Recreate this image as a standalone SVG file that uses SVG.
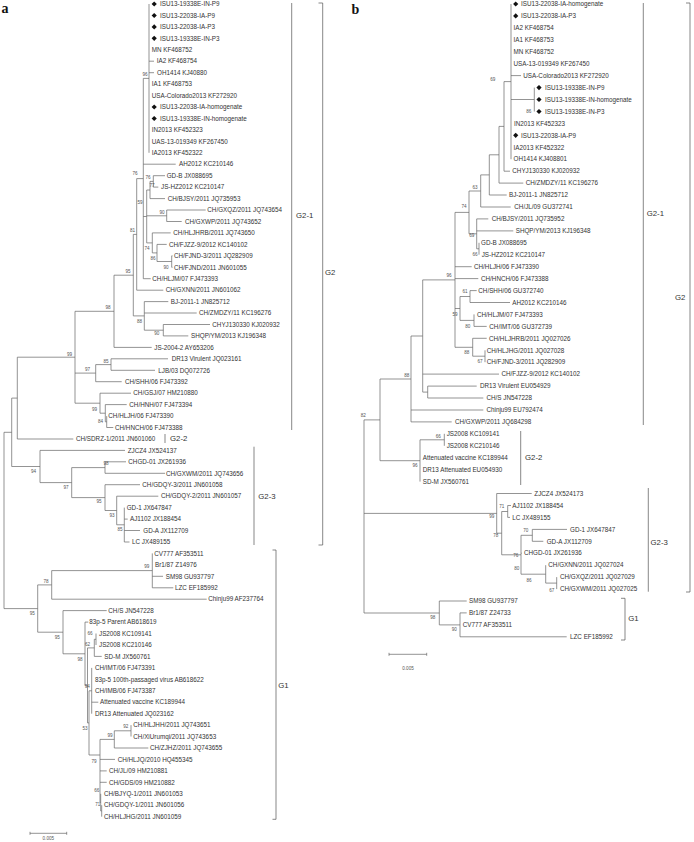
<svg xmlns="http://www.w3.org/2000/svg" xmlns:xlink="http://www.w3.org/1999/xlink" width="694" height="842" viewBox="0 0 694 842">
<style>
.ln{fill:none;stroke:#666;stroke-width:0.7}
.br{fill:none;stroke:#555;stroke-width:0.7}
.t{font-family:"Liberation Sans",Arial,sans-serif;font-size:6.3px;fill:#333}
.bs{font-family:"Liberation Sans",Arial,sans-serif;font-size:4.6px;fill:#555;text-anchor:middle}
.g{font-family:"Liberation Sans",Arial,sans-serif;font-size:7.8px;fill:#333}
.pl{font-family:"Liberation Serif","Times New Roman",serif;font-weight:bold;font-size:14px;fill:#111}
.dm{fill:#111}
</style>
<defs><path id="dm" class="dm" d="M0,-2.6L2.6,0L0,2.6L-2.6,0Z"/></defs>
<rect width="694" height="842" fill="#fff"/>
<text class="pl" x="1.5" y="13">a</text>
<text class="pl" x="351.5" y="13.5">b</text>
<g id="connectors">
<path class="ln" d="M4,432.3V608.6M4,432.3H11.7M4,608.6H37.7M11.7,398.1V466.5M11.7,398.1H17.3M11.7,466.5H40M17.3,357.2V439M17.3,357.2H75M17.3,439H73.3M75,311.3V403.2M75,311.3H114M75,373.1H95.7M75,403.2H100M114,275.2V347.4M114,275.2H133.3M114,347.4H151.7M133.3,234.4V315.9M133.3,234.4H136.7M133.3,315.9H144.3M136.7,178.6V290.2M136.7,178.6H143.3M136.7,290.2H163.3M143.3,78.4V278.7M143.3,78.4H149M143.3,164.2H175.7M143.3,216.5H146.7M143.3,278.7H150.7M149,4V152.8M149,61.2H154M149,72.7H154M146.7,190V242.9M146.7,190H150M146.7,215.8H166.7M146.7,242.9H152.3M150,181.4V198.6M150,181.4H153.3M150,198.6H165M153.3,175.7V187.1M153.3,175.7H165M153.3,187.1H158.3M166.7,210V221.5M166.7,210H205.7M166.7,221.5H181.7M152.3,232.9V252.9M152.3,232.9H170.7M152.3,252.9H157M157,244.4V261.5M157,244.4H166.7M157,261.5H171.7M171.7,255.8V267.3M171.7,255.8H172.5M171.7,267.3H172.5M144.3,301.6V330.2M144.3,301.6H168.3M144.3,313H196.7M144.3,330.2H163.3M163.3,324.5V335.9M163.3,324.5H210M163.3,335.9H188.3M95.7,364.6V381.7M95.7,364.6H111M95.7,381.7H121.7M111,358.8V370.3M111,358.8H168M111,370.3H155M100,393.2V413.2M100,393.2H131M100,413.2H105.3M105.3,404.6V421.8M105.3,404.6H126.7M105.3,421.8H106.7M106.7,416.1V427.5M106.7,427.5H113.3M40,450.4V482.6M40,450.4H125M40,482.6H71.7M71.7,467.6V497.6M71.7,467.6H105M71.7,497.6H105M105,461.8V473.3M105,461.8H126M105,473.3H165M105,484.7V510.5M105,484.7H140M105,510.5H116.7M116.7,496.2V524.8M116.7,496.2H158.3M116.7,524.8H124.3M124.3,507.6V542M124.3,519.1H127.7M124.3,530.5H140M124.3,542H129.5M37.7,584.9V632.2M37.7,584.9H51.7M37.7,632.2H63M51.7,570.6V599.2M51.7,570.6H152.3M51.7,599.2H206.7M152.3,553.4V587.8M152.3,576.3H163M152.3,587.8H173.3M63,610.6V653.8M63,610.6H106.7M63,653.8H85M85,622.1V685.4M85,622.1H88.3M85,685.4H87.5M87.5,647.9V722.9M87.5,647.9H94.3M87.5,722.9H89M94.3,639.3V656.4M94.3,639.3H96M94.3,656.4H101.7M96,633.5V645M89,690.8V755M89,690.8H91.7M89,755H100M91.7,667.9V713.7M91.7,702.2H98.3M100,739.4V802.4M100,739.4H114.3M100,759.4H115M100,770.9H106.7M100,782.3H106.7M100,802.4H100.7M114.3,730.8V748M114.3,730.8H131M114.3,748H148.3M131,725.1V736.5M100.7,793.8V811M100.7,811H101.7M101.7,805.2V816.7"/>
<path class="ln" d="M364,419.9V613M364,419.9H380M364,513.4H496.7M364,613H439.3M380,379V460.7M380,379H411M380,460.7H420M411,336V421.9M411,336H422.7M411,410H483.3M411,421.9H451.7M422.7,279.9V392.1M422.7,279.9H455M422.7,374.1H499M422.7,392.1H427.7M427.7,386.1V398M427.7,386.1H476.7M427.7,398H483.3M455,212.4V347.3M455,212.4H469M455,266.7H471.7M455,278.6H478.3M455,308.5H460M455,347.3H472.7M469,191V233.8M469,191H480.7M469,233.8H476.7M480.7,174.9V207M480.7,174.9H489.3M480.7,207H510.7M489.3,154.8V195M489.3,154.8H499M489.3,195H506.7M499,126.4V183.1M499,126.4H504M499,183.1H523.3M504,81.6V171.2M504,81.6H511M504,171.2H510M511,4V159.2M511,75.6H521M511,99.5H534.3M534.3,87.6V111.5M476.7,218.9V248.8M476.7,218.9H488.3M476.7,230.9H513.3M476.7,248.8H479M479,242.8V254.7M460,296.5V320.4M460,296.5H470M460,320.4H474M470,290.6V302.5M470,290.6H476.7M470,302.5H510M474,314.4V326.4M474,326.4H486.7M472.7,338.3V356.2M472.7,338.3H486.7M472.7,356.2H485M485,350.3V362.2M420,439.8V481.6M420,439.8H444.3M444.3,433.8V445.8M496.7,493.5V533.2M496.7,493.5H531.7M496.7,533.2H501.7M501.7,511.5V554.8M501.7,511.5H507.7M501.7,554.8H521M507.7,505.5V517.4M507.7,505.5H511M507.7,517.4H510M521,535.3V574.2M521,535.3H532.3M521,553.2H521.7M521,574.2H545.7M532.3,529.4V541.3M532.3,529.4H567M532.3,541.3H543.3M545.7,565.2V583.1M545.7,583.1H556.7M556.7,577.1V589.1M439.3,601V624.9M439.3,601H466.7M439.3,624.9H460M460,612.9V636.8M460,612.9H466.7M460,636.8H566.7"/>
</g>
<g id="brackets">
<path class="br" d="M291.7,3V430M318.5,3H322.7V545H318.5M165,434V443M254,446.7V545M272.5,550H276V819.3H272.5"/>
<text class="g" x="296" y="218">G2-1</text>
<text class="g" x="325" y="275">G2</text>
<text class="g" x="170" y="441">G2-2</text>
<text class="g" x="258.3" y="499">G2-3</text>
<text class="g" x="278.3" y="688">G1</text>
<path class="br" d="M643.3,3V425M686,3H690V592H686M520.7,431V485M648.3,488V591.7M621,598.3H625V640H621"/>
<text class="g" x="646.7" y="216">G2-1</text>
<text class="g" x="675" y="300">G2</text>
<text class="g" x="525" y="460">G2-2</text>
<text class="g" x="650.5" y="544.5">G2-3</text>
<text class="g" x="628.3" y="621">G1</text>
</g>
<g id="scales">
<path class="ln" d="M30,833.3H66.7M30,831.8V834.8M66.7,831.8V834.8M389,654.3H426.7M389,652.8V655.8M426.7,652.8V655.8"/>
<text class="bs" x="48.3" y="840">0.005</text>
<text class="bs" x="408" y="670">0.005</text>
</g>
<g id="bootstrap-a">
<text class="bs" x="145" y="75.6">96</text>
<text class="bs" x="135" y="174.9">76</text>
<text class="bs" x="148" y="178.6">76</text>
<text class="bs" x="152" y="186.6">77</text>
<text class="bs" x="140" y="203.6">59</text>
<text class="bs" x="162" y="213.6">90</text>
<text class="bs" x="132.5" y="231.6">81</text>
<text class="bs" x="147" y="249.6">74</text>
<text class="bs" x="153" y="260.1">86</text>
<text class="bs" x="166" y="268.6">90</text>
<text class="bs" x="128" y="272.6">95</text>
<text class="bs" x="108" y="308.6">98</text>
<text class="bs" x="139.5" y="322.6">88</text>
<text class="bs" x="156.7" y="334.9">90</text>
<text class="bs" x="69.5" y="355.6">99</text>
<text class="bs" x="106" y="362.6">85</text>
<text class="bs" x="87.5" y="370.9">97</text>
<text class="bs" x="94.5" y="410.9">99</text>
<text class="bs" x="100.5" y="423.1">84</text>
<text class="bs" x="106" y="464.6">98</text>
<text class="bs" x="33.5" y="473.3">94</text>
<text class="bs" x="66" y="489.3">97</text>
<text class="bs" x="99" y="503.3">95</text>
<text class="bs" x="112" y="517.3">93</text>
<text class="bs" x="120" y="530.9">85</text>
<text class="bs" x="146.7" y="567.6">99</text>
<text class="bs" x="46" y="582.6">78</text>
<text class="bs" x="32.3" y="614.9">95</text>
<text class="bs" x="57.3" y="638.9">95</text>
<text class="bs" x="90" y="634.6">66</text>
<text class="bs" x="87.5" y="645.6">62</text>
<text class="bs" x="80" y="660.9">98</text>
<text class="bs" x="87.3" y="688.3">94</text>
<text class="bs" x="85" y="729.9">53</text>
<text class="bs" x="125.7" y="728.3">92</text>
<text class="bs" x="110" y="736.6">99</text>
<text class="bs" x="94" y="762.6">79</text>
<text class="bs" x="96.7" y="791.6">66</text>
<text class="bs" x="97.7" y="805.9">71</text>
</g>
<g id="bootstrap-b">
<text class="bs" x="492.7" y="80.9">69</text>
<text class="bs" x="528.7" y="113.3">86</text>
<text class="bs" x="475" y="188.9">63</text>
<text class="bs" x="464" y="207.6">74</text>
<text class="bs" x="471.7" y="236.6">69</text>
<text class="bs" x="475" y="255.9">66</text>
<text class="bs" x="449" y="276.6">96</text>
<text class="bs" x="465" y="293.3">61</text>
<text class="bs" x="455" y="315.9">59</text>
<text class="bs" x="467.7" y="327.6">80</text>
<text class="bs" x="466.7" y="354.3">88</text>
<text class="bs" x="480" y="363.3">67</text>
<text class="bs" x="406.7" y="376.6">88</text>
<text class="bs" x="363.3" y="416.6">82</text>
<text class="bs" x="438.3" y="437.6">66</text>
<text class="bs" x="415" y="466.6">96</text>
<text class="bs" x="501.7" y="508.3">71</text>
<text class="bs" x="491.7" y="517.6">99</text>
<text class="bs" x="525.7" y="532.3">70</text>
<text class="bs" x="495.7" y="537.3">78</text>
<text class="bs" x="515.7" y="556.6">76</text>
<text class="bs" x="516.7" y="569.9">80</text>
<text class="bs" x="529" y="581.6">86</text>
<text class="bs" x="551.7" y="591.6">67</text>
<text class="bs" x="432.7" y="619.3">98</text>
<text class="bs" x="454.3" y="630.9">90</text>
</g>
<g id="a1"><use href="#dm" x="154.2" y="4"/><text class="t" x="160" y="6.2">ISU13-19338E-IN-P9</text></g>
<g id="a2"><use href="#dm" x="154.2" y="15.5"/><text class="t" x="160" y="17.7">ISU13-22038-IA-P9</text></g>
<g id="a3"><use href="#dm" x="154.2" y="26.9"/><text class="t" x="160" y="29.1">ISU13-22038-IA-P3</text></g>
<g id="a4"><use href="#dm" x="154.2" y="38.3"/><text class="t" x="160" y="40.5">ISU13-19338E-IN-P3</text></g>
<g id="a5"><text class="t" x="151.7" y="52">MN KF468752</text></g>
<g id="a6"><text class="t" x="156.7" y="63.4">IA2 KF468754</text></g>
<g id="a7"><text class="t" x="157" y="74.9">OH1414 KJ40880</text></g>
<g id="a8"><text class="t" x="151.7" y="86.3">IA1 KF468753</text></g>
<g id="a9"><text class="t" x="151.7" y="97.8">USA-Colorado2013 KF272920</text></g>
<g id="a10"><use href="#dm" x="154.2" y="107"/><text class="t" x="160" y="109.2">ISU13-22038-IA-homogenate</text></g>
<g id="a11"><use href="#dm" x="154.2" y="118.5"/><text class="t" x="160" y="120.7">ISU13-19338E-IN-homogenate</text></g>
<g id="a12"><text class="t" x="151.7" y="132.1">IN2013 KF452323</text></g>
<g id="a13"><text class="t" x="151.7" y="143.6">UAS-13-019349 KF267450</text></g>
<g id="a14"><text class="t" x="151.7" y="155">IA2013 KF452322</text></g>
<g id="a15"><text class="t" x="179" y="166.4">AH2012 KC210146</text></g>
<g id="a16"><text class="t" x="166.7" y="177.9">GD-B JX088695</text></g>
<g id="a17"><text class="t" x="161" y="189.3">JS-HZ2012 KC210147</text></g>
<g id="a18"><text class="t" x="167.7" y="200.8">CH/BJSY/2011 JQ735953</text></g>
<g id="a19"><text class="t" x="207.3" y="212.2">CH/GXQZ/2011 JQ743654</text></g>
<g id="a20"><text class="t" x="185" y="223.7">CH/GXWP/2011 JQ743652</text></g>
<g id="a21"><text class="t" x="173.3" y="235.1">CH/HLJHRB/2011 JQ743650</text></g>
<g id="a22"><text class="t" x="169" y="246.6">CH/FJZZ-9/2012 KC140102</text></g>
<g id="a23"><text class="t" x="174" y="258">CH/FJND-3/2011 JQ282909</text></g>
<g id="a24"><text class="t" x="174" y="269.5">CH/FJND/2011 JN601055</text></g>
<g id="a25"><text class="t" x="152.3" y="280.9">CH/HLJM/07 FJ473393</text></g>
<g id="a26"><text class="t" x="165.7" y="292.4">CH/GXNN/2011 JN601062</text></g>
<g id="a27"><text class="t" x="170.7" y="303.8">BJ-2011-1 JN825712</text></g>
<g id="a28"><text class="t" x="199" y="315.2">CH/ZMDZY/11 KC196276</text></g>
<g id="a29"><text class="t" x="212.3" y="326.7">CHYJ130330 KJ020932</text></g>
<g id="a30"><text class="t" x="191" y="338.1">SHQP/YM/2013 KJ196348</text></g>
<g id="a31"><text class="t" x="154.3" y="349.6">JS-2004-2 AY653206</text></g>
<g id="a32"><text class="t" x="171.7" y="361">DR13 Virulent JQ023161</text></g>
<g id="a33"><text class="t" x="158.3" y="372.5">LJB/03 DQ072726</text></g>
<g id="a34"><text class="t" x="125" y="383.9">CH/SHH/06 FJ473392</text></g>
<g id="a35"><text class="t" x="133.3" y="395.4">CH/GSJ/07 HM210880</text></g>
<g id="a36"><text class="t" x="129.3" y="406.8">CH/HNH/07 FJ473394</text></g>
<g id="a37"><text class="t" x="108.3" y="418.3">CH/HLJH/06 FJ473390</text></g>
<g id="a38"><text class="t" x="115" y="429.7">CH/HNCH/06 FJ473388</text></g>
<g id="a39"><text class="t" x="76" y="441.2">CH/SDRZ-1/2011 JN601060</text></g>
<g id="a40"><text class="t" x="127.7" y="452.6">ZJCZ4 JX524137</text></g>
<g id="a41"><text class="t" x="128.3" y="464">CHGD-01 JX261936</text></g>
<g id="a42"><text class="t" x="166" y="475.5">CH/GXWM/2011 JQ743656</text></g>
<g id="a43"><text class="t" x="142.3" y="486.9">CH/GDQY-3/2011 JN601058</text></g>
<g id="a44"><text class="t" x="161" y="498.4">CH/GDQY-2/2011 JN601057</text></g>
<g id="a45"><text class="t" x="126.7" y="509.8">GD-1 JX647847</text></g>
<g id="a46"><text class="t" x="130" y="521.3">AJ1102 JX188454</text></g>
<g id="a47"><text class="t" x="143.3" y="532.7">GD-A JX112709</text></g>
<g id="a48"><text class="t" x="132" y="544.2">LC JX489155</text></g>
<g id="a49"><text class="t" x="154.3" y="555.6">CV777 AF353511</text></g>
<g id="a50"><text class="t" x="155" y="567.1">Br1/87 Z14976</text></g>
<g id="a51"><text class="t" x="165.7" y="578.5">SM98 GU937797</text></g>
<g id="a52"><text class="t" x="175" y="590">LZC EF185992</text></g>
<g id="a53"><text class="t" x="208.3" y="601.4">Chinju99 AF237764</text></g>
<g id="a54"><text class="t" x="108.3" y="612.8">CH/S JN547228</text></g>
<g id="a55"><text class="t" x="89.3" y="624.3">83p-5 Parent AB618619</text></g>
<g id="a56"><text class="t" x="99" y="635.7">JS2008 KC109141</text></g>
<g id="a57"><text class="t" x="99" y="647.2">JS2008 KC210146</text></g>
<g id="a58"><text class="t" x="104.3" y="658.6">SD-M JX560761</text></g>
<g id="a59"><text class="t" x="95" y="670.1">CH/IMT/06 FJ473391</text></g>
<g id="a60"><text class="t" x="95" y="681.5">83p-5 100th-passaged virus AB618622</text></g>
<g id="a61"><text class="t" x="95" y="693">CH/IMB/06 FJ473387</text></g>
<g id="a62"><text class="t" x="100" y="704.4">Attenuated vaccine KC189944</text></g>
<g id="a63"><text class="t" x="95" y="715.9">DR13 Attenuated JQ023162</text></g>
<g id="a64"><text class="t" x="133.3" y="727.3">CH/HLJHH/2011 JQ743651</text></g>
<g id="a65"><text class="t" x="133.3" y="738.7">CH/XiUrumqi/2011 JQ743653</text></g>
<g id="a66"><text class="t" x="150" y="750.2">CH/ZJHZ/2011 JQ743655</text></g>
<g id="a67"><text class="t" x="117.7" y="761.6">CH/HLJQ/2010 HQ455345</text></g>
<g id="a68"><text class="t" x="109" y="773.1">CH/JL/09 HM210881</text></g>
<g id="a69"><text class="t" x="109" y="784.5">CH/GDS/09 HM210882</text></g>
<g id="a70"><text class="t" x="104" y="796">CH/BJYQ-1/2011 JN601053</text></g>
<g id="a71"><text class="t" x="104" y="807.4">CH/GDQY-1/2011 JN601056</text></g>
<g id="a72"><text class="t" x="104" y="818.9">CH/HLJHG/2011 JN601059</text></g>
<g id="b1"><use href="#dm" x="515.7" y="4"/><text class="t" x="521" y="6.2">ISU13-22038-IA-homogenate</text></g>
<g id="b2"><use href="#dm" x="515.7" y="15.9"/><text class="t" x="521" y="18.1">ISU13-22038-IA-P3</text></g>
<g id="b3"><text class="t" x="513.5" y="30.1">IA2 KF468754</text></g>
<g id="b4"><text class="t" x="513.5" y="42">IA1 KF468753</text></g>
<g id="b5"><text class="t" x="513.5" y="54">MN KF468752</text></g>
<g id="b6"><text class="t" x="513.5" y="65.9">USA-13-019349 KF267450</text></g>
<g id="b7"><text class="t" x="523.3" y="77.8">USA-Colorado2013 KF272920</text></g>
<g id="b8"><use href="#dm" x="539" y="87.6"/><text class="t" x="545" y="89.8">ISU13-19338E-IN-P9</text></g>
<g id="b9"><use href="#dm" x="539" y="99.5"/><text class="t" x="545" y="101.7">ISU13-19338E-IN-homogenate</text></g>
<g id="b10"><use href="#dm" x="539" y="111.5"/><text class="t" x="545" y="113.7">ISU13-19338E-IN-P3</text></g>
<g id="b11"><text class="t" x="514" y="125.6">IN2013 KF452323</text></g>
<g id="b12"><use href="#dm" x="515.7" y="135.3"/><text class="t" x="521" y="137.5">ISU13-22038-IA-P9</text></g>
<g id="b13"><text class="t" x="513.5" y="149.5">IA2013 KF452322</text></g>
<g id="b14"><text class="t" x="513.5" y="161.4">OH1414 KJ408801</text></g>
<g id="b15"><text class="t" x="512.3" y="173.4">CHYJ130330 KJ020932</text></g>
<g id="b16"><text class="t" x="525.7" y="185.3">CH/ZMDZY/11 KC196276</text></g>
<g id="b17"><text class="t" x="509" y="197.2">BJ-2011-1 JN825712</text></g>
<g id="b18"><text class="t" x="514.3" y="209.2">CH/JL/09 GU372741</text></g>
<g id="b19"><text class="t" x="491.7" y="221.1">CH/BJSY/2011 JQ735952</text></g>
<g id="b20"><text class="t" x="515.7" y="233.1">SHQP/YM/2013 KJ196348</text></g>
<g id="b21"><text class="t" x="481" y="245">GD-B JX088695</text></g>
<g id="b22"><text class="t" x="481.7" y="256.9">JS-HZ2012 KC210147</text></g>
<g id="b23"><text class="t" x="474" y="268.9">CH/HLJH/06 FJ473390</text></g>
<g id="b24"><text class="t" x="481" y="280.8">CH/HNCH/06 FJ473388</text></g>
<g id="b25"><text class="t" x="478.3" y="292.8">CH/SHH/06 GU372740</text></g>
<g id="b26"><text class="t" x="512.3" y="304.7">AH2012 KC210146</text></g>
<g id="b27"><text class="t" x="477" y="316.6">CH/HLJM/07 FJ473393</text></g>
<g id="b28"><text class="t" x="489.3" y="328.6">CH/IMT/06 GU372739</text></g>
<g id="b29"><text class="t" x="489" y="340.5">CH/HLJHRB/2011 JQ027026</text></g>
<g id="b30"><text class="t" x="486.7" y="352.5">CH/HLJHG/2011 JQ027028</text></g>
<g id="b31"><text class="t" x="486.7" y="364.4">CH/FJND-3/2011 JQ282909</text></g>
<g id="b32"><text class="t" x="501.5" y="376.3">CH/FJZZ-9/2012 KC140102</text></g>
<g id="b33"><text class="t" x="480" y="388.3">DR13 Virulent EU054929</text></g>
<g id="b34"><text class="t" x="486.5" y="400.2">CH/S JN547228</text></g>
<g id="b35"><text class="t" x="486.5" y="412.2">Chinju99 EU792474</text></g>
<g id="b36"><text class="t" x="455" y="424.1">CH/GXWP/2011 JQ684298</text></g>
<g id="b37"><text class="t" x="446.7" y="436">JS2008 KC109141</text></g>
<g id="b38"><text class="t" x="446.7" y="448">JS2008 KC210146</text></g>
<g id="b39"><text class="t" x="422.7" y="459.9">Attenuated vaccine KC189944</text></g>
<g id="b40"><text class="t" x="422.7" y="471.9">DR13 Attenuated EU054930</text></g>
<g id="b41"><text class="t" x="422.7" y="483.8">SD-M JX560761</text></g>
<g id="b42"><text class="t" x="534.3" y="495.7">ZJCZ4 JX524173</text></g>
<g id="b43"><text class="t" x="512.3" y="507.7">AJ1102 JX188454</text></g>
<g id="b44"><text class="t" x="512.3" y="519.6">LC JX489155</text></g>
<g id="b45"><text class="t" x="570" y="531.6">GD-1 JX647847</text></g>
<g id="b46"><text class="t" x="546.7" y="543.5">GD-A JX112709</text></g>
<g id="b47"><text class="t" x="524" y="555.4">CHGD-01 JX261936</text></g>
<g id="b48"><text class="t" x="548.3" y="567.4">CH/GXNN/2011 JQ027024</text></g>
<g id="b49"><text class="t" x="560" y="579.3">CH/GXQZ/2011 JQ027029</text></g>
<g id="b50"><text class="t" x="560" y="591.3">CH/GXWM/2011 JQ027025</text></g>
<g id="b51"><text class="t" x="469" y="603.2">SM98 GU937797</text></g>
<g id="b52"><text class="t" x="469" y="615.1">Br1/87 Z24733</text></g>
<g id="b53"><text class="t" x="462.7" y="627.1">CV777 AF353511</text></g>
<g id="b54"><text class="t" x="570" y="639">LZC EF185992</text></g>
</svg>
